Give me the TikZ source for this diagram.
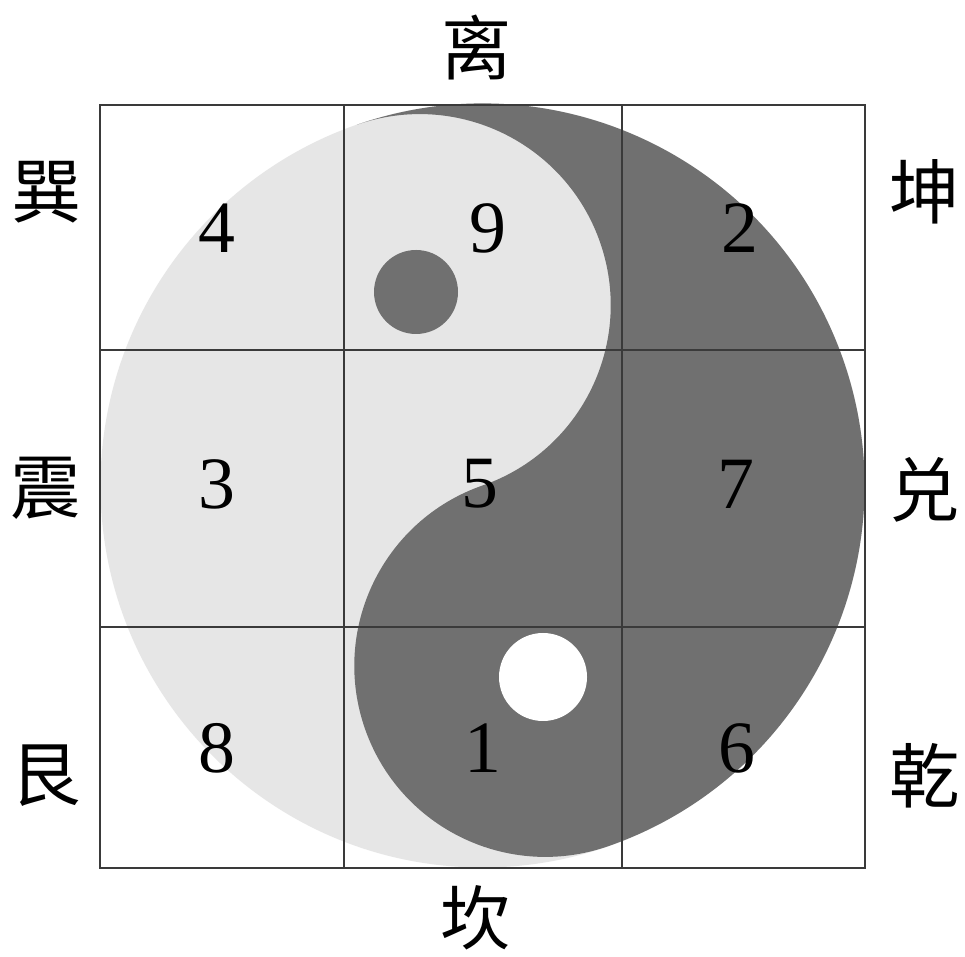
\documentclass[tikz,border=0pt]{standalone}
\usepackage{fontspec}
\usetikzlibrary{calc}
\setmainfont{Liberation Serif}
\newfontfamily\cjk{Noto Sans CJK SC}
\definecolor{yinlight}{HTML}{E6E6E6}
\definecolor{yangdark}{HTML}{707070}
\definecolor{gridline}{HTML}{3A3A3A}
\tikzset{
  digit/.style={inner sep=0pt, font=\fontsize{21}{21}\selectfont, text=black},
  trigram/.style={inner sep=0pt, font=\cjk\fontsize{20}{20}\selectfont, text=black},
  gridln/.style={draw=gridline, line width=0.5pt},
}
\begin{document}
\begin{tikzpicture}
\useasboundingbox (0,0) rectangle (9.65,9.56);
\fill[white] (0,0) rectangle (9.65,9.56);
\coordinate (C) at (4.825,4.705);
% big light disc
\fill[yinlight] (C) circle[radius=3.82cm];
% dark half
\fill[yangdark] ($(C)+(109.2:3.82)$)
  arc[start angle=109.2, end angle=-70.8, radius=3.82cm]
  arc[start angle=-70.8, end angle=-250.8, radius=1.91cm]
  arc[start angle=-70.8, end angle=109.2, radius=1.91cm] -- cycle;
% dots
\fill[yangdark] (4.16,6.64) circle[radius=0.42cm];
\fill[white] (5.43,2.79) circle[radius=0.44cm];
% grid
\draw[gridln] (3.44,8.51) -- (3.44,0.88);
\draw[gridln] (6.22,8.51) -- (6.22,0.88);
\draw[gridln] (1.00,6.06) -- (8.65,6.06);
\draw[gridln] (1.00,3.29) -- (8.65,3.29);
\draw[gridln, line width=0.7pt] (1.00,0.88) rectangle (8.65,8.51);
% digits
\node[digit] (n4) at (2.17,7.28) {4};
\node[digit] (n9) at (4.88,7.28) {9};
\node[digit] (n2) at (7.40,7.28) {2};
\node[digit] (n3) at (2.17,4.72) {3};
\node[digit] (n5) at (4.80,4.72) {5};
\node[digit] (n7) at (7.36,4.72) {7};
\node[digit] (n8) at (2.17,2.08) {8};
\node[digit] (n1) at (4.83,2.08) {1};
\node[digit] (n6) at (7.37,2.08) {6};
% trigram names
\node[trigram] (li) at (4.77,9.08) {离};
\node[trigram] (kan) at (4.76,0.38) {坎};
\node[trigram] (xun) at (0.47,7.64) {巽};
\node[trigram] (kun) at (9.25,7.64) {坤};
\node[trigram] (zhen) at (0.46,4.68) {震};
\node[trigram] (dui) at (9.25,4.66) {兑};
\node[trigram] (gen) at (0.46,1.80) {艮};
\node[trigram] (qian) at (9.25,1.80) {乾};
\end{tikzpicture}
\end{document}
